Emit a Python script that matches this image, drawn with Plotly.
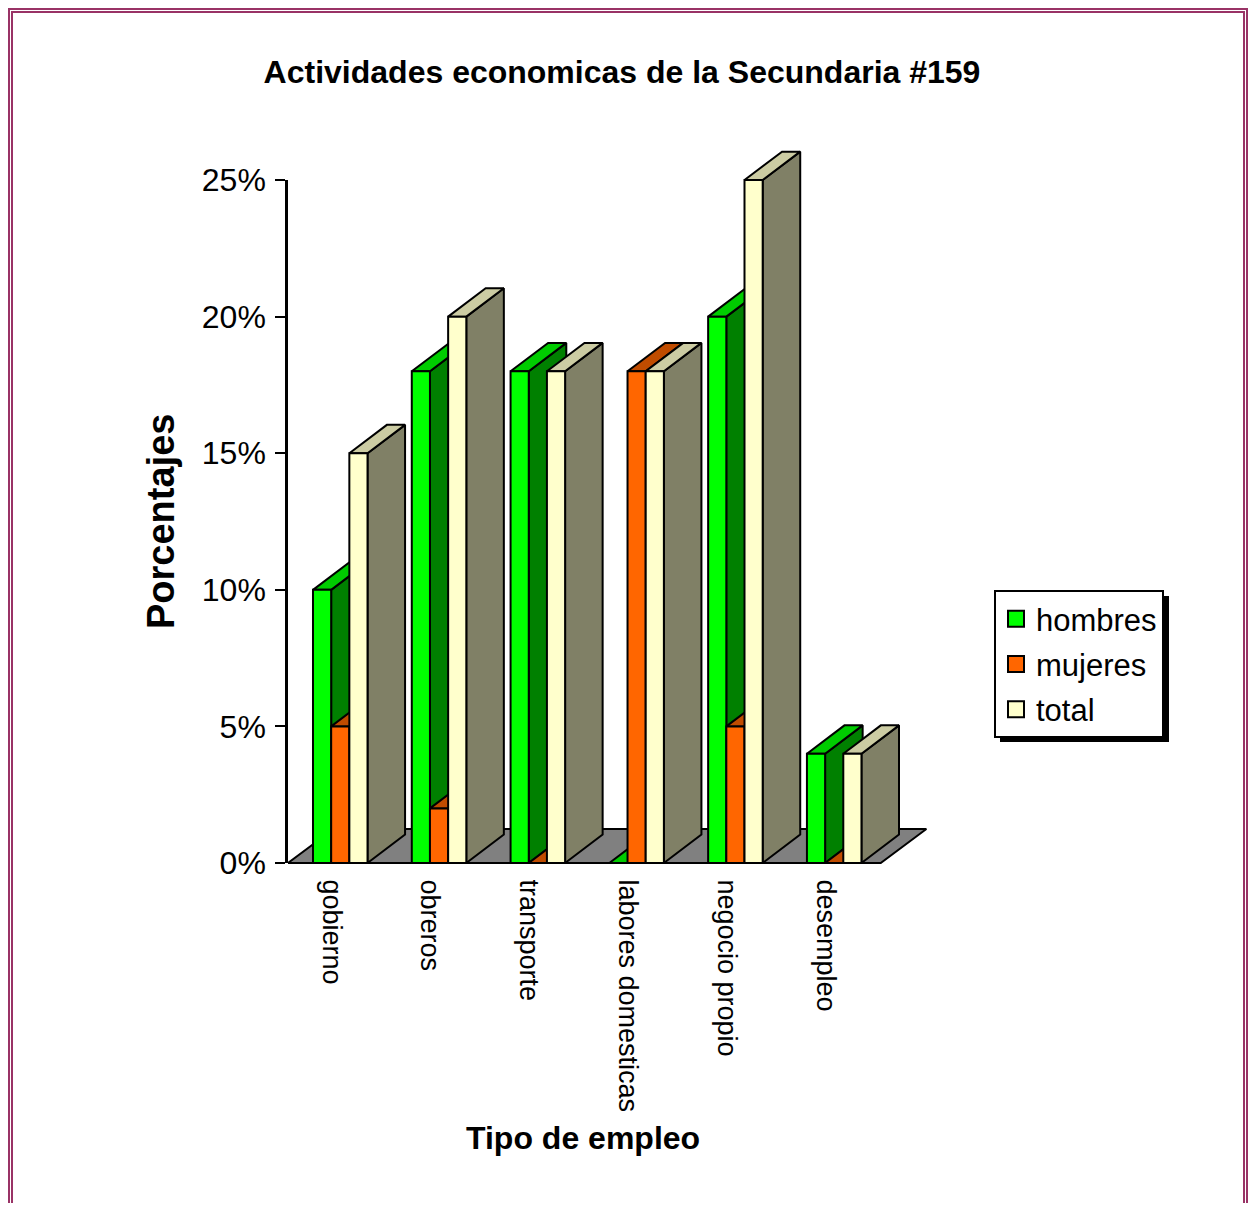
import plotly.graph_objects as go

# ---------------- data ----------------
categories = ["gobierno", "obreros", "transporte", "labores domesticas",
              "negocio propio", "desempleo"]
series_names = ["hombres", "mujeres", "total"]
hombres = [10, 18, 18, 0, 20, 4]
mujeres = [5, 2, 0, 18, 5, 0]
total = [15, 20, 18, 18, 25, 4]
y_tick_values = [0, 5, 10, 15, 20, 25]
y_tick_labels = ["0%", "5%", "10%", "15%", "20%", "25%"]

series_values = [hombres, mujeres, total]

# ---------------- style / geometry ----------------
PAGE_PAD = 8                      # default body margin of the html page
W, H = 1256 - 2 * PAGE_PAD, 1211 - 2 * PAGE_PAD
M_L, M_T = 288 - PAGE_PAD, 144 - PAGE_PAD
PLOT_W, PLOT_H = 652, 723
M_R = W - M_L - PLOT_W
M_B = H - M_T - PLOT_H
X_RANGE = [0, 6.6]
Y_RANGE = [-0.146, 26.32]

BAR_OFFSET = 0.253   # gap from category start to first bar (category units)
BAR_W = 0.184        # bar width (category units)
DEPTH_X = 0.38       # 3-D depth, horizontal (category units)
DEPTH_Y = 1.04       # 3-D depth, vertical (axis units)
FLOOR_DX = 0.462
FLOOR_DY = 1.245
LABEL_SHIFT = 0.44

FONT = "Liberation Sans, Arial, sans-serif"
EDGE = dict(color="black", width=2)

colors = {
    "hombres": dict(front="#00FF00", side="#008000", top="#00CC00"),
    "mujeres": dict(front="#FF6600", side="#803300", top="#C04C00"),
    "total":   dict(front="#FFFFCC", side="#808066", top="#CCCCA3"),
}
BORDER_COLOR = "#993366"


def px_x(px):
    """page pixel x -> paper fraction"""
    return (px - PAGE_PAD - M_L) / PLOT_W


def px_y(py):
    """page pixel y -> paper fraction"""
    return (H - M_B - (py - PAGE_PAD)) / PLOT_H


fig = go.Figure()

# floor
n_cat = len(categories)
fig.add_trace(go.Scatter(
    x=[0, n_cat, n_cat + FLOOR_DX, FLOOR_DX, 0],
    y=[0, 0, FLOOR_DY, FLOOR_DY, 0],
    fill="toself", fillcolor="#808080", mode="lines", line=EDGE,
    hoverinfo="skip", showlegend=False))

# bars: side, top, front faces for each series (painter's order)
for s, (name, vals) in enumerate(zip(series_names, series_values)):
    faces = {"side": ([], []), "top": ([], []), "front": ([], [])}
    for i, v in enumerate(vals):
        x0 = i + BAR_OFFSET + s * BAR_W
        x1 = x0 + BAR_W
        fx, fy = faces["side"]
        fx += [x1, x1 + DEPTH_X, x1 + DEPTH_X, x1, x1, None]
        fy += [0, DEPTH_Y, v + DEPTH_Y, v, 0, None]
        fx, fy = faces["top"]
        fx += [x0, x1, x1 + DEPTH_X, x0 + DEPTH_X, x0, None]
        fy += [v, v, v + DEPTH_Y, v + DEPTH_Y, v, None]
        fx, fy = faces["front"]
        fx += [x0, x1, x1, x0, x0, None]
        fy += [0, 0, v, v, 0, None]
    for face in ["side", "top", "front"]:
        fx, fy = faces[face]
        fig.add_trace(go.Scatter(
            x=fx, y=fy, fill="toself", fillcolor=colors[name][face],
            mode="lines", line=EDGE, hoverinfo="skip", showlegend=False))

# legend entries
for name in series_names:
    fig.add_trace(go.Scatter(
        x=[None], y=[None], mode="markers", name=name, legendgroup=name,
        marker=dict(symbol="square", size=16, color=colors[name]["front"],
                    line=dict(color="black", width=2))))

# invisible trace to host the visible percentage axis
fig.add_trace(go.Scatter(x=[0], y=[0], yaxis="y2", mode="markers",
                         marker=dict(opacity=0), hoverinfo="skip",
                         showlegend=False))

span = Y_RANGE[1] - Y_RANGE[0]
d0 = (y_tick_values[0] - Y_RANGE[0]) / span
d1 = (y_tick_values[-1] - Y_RANGE[0]) / span

shapes = [
    # legend shadow
    dict(type="rect", xref="paper", yref="paper",
         x0=px_x(1000), x1=px_x(1169), y0=px_y(742), y1=px_y(596),
         fillcolor="black", line=dict(width=0), layer="above"),
    # double border
    dict(type="rect", xref="paper", yref="paper",
         x0=px_x(9), x1=px_x(1247), y0=px_y(1240), y1=px_y(9),
         line=dict(color=BORDER_COLOR, width=2)),
    dict(type="rect", xref="paper", yref="paper",
         x0=px_x(12), x1=px_x(1244), y0=px_y(1237), y1=px_y(12),
         line=dict(color=BORDER_COLOR, width=2)),
]

annotations = [
    dict(text="<b>Tipo de empleo</b>", xref="paper", yref="paper",
         x=px_x(583), y=px_y(1138), xanchor="center", yanchor="middle",
         showarrow=False, font=dict(family=FONT, size=32, color="black")),
    dict(text="<b>Porcentajes</b>", xref="paper", yref="paper",
         x=px_x(161), y=px_y(522), xanchor="center", yanchor="middle",
         textangle=-90, showarrow=False,
         font=dict(family=FONT, size=38, color="black")),
]

fig.update_layout(
    width=W, height=H, autosize=False,
    margin=dict(l=M_L, r=M_R, t=M_T, b=M_B, pad=0),
    paper_bgcolor="white", plot_bgcolor="rgba(0,0,0,0)",
    font=dict(family=FONT, color="black"),
    hovermode=False,
    title=dict(text="<b>Actividades economicas de la Secundaria #159</b>",
               x=(622 - PAGE_PAD) / W, xref="container", xanchor="center",
               y=1 - (72 - PAGE_PAD) / H, yref="container", yanchor="middle",
               font=dict(family=FONT, size=32, color="black")),
    xaxis=dict(range=X_RANGE, showgrid=False, zeroline=False, showline=False,
               ticks="outside", ticklen=6, tickcolor="rgba(0,0,0,0)",
               tickmode="array",
               tickvals=[i + LABEL_SHIFT for i in range(n_cat)],
               ticktext=categories, tickangle=90,
               tickfont=dict(family=FONT, size=27, color="black"),
               fixedrange=True),
    yaxis=dict(range=Y_RANGE, visible=False, fixedrange=True),
    yaxis2=dict(domain=[d0, d1], range=[y_tick_values[0], y_tick_values[-1]],
                anchor="x", side="left", showgrid=False, zeroline=False,
                showline=True, linecolor="black", linewidth=2.5,
                ticks="outside", ticklen=10, tickwidth=2, tickcolor="black",
                ticklabelstandoff=3,
                tickmode="array", tickvals=y_tick_values,
                ticktext=y_tick_labels,
                tickfont=dict(family=FONT, size=32, color="black"),
                fixedrange=True),
    legend=dict(x=px_x(994), y=px_y(590), xanchor="left", yanchor="top",
                bgcolor="white", bordercolor="black", borderwidth=2,
                font=dict(family=FONT, size=31, color="black"),
                tracegroupgap=2, itemclick=False, itemdoubleclick=False),
    shapes=shapes,
    annotations=annotations,
)

fig.write_html("out.html")
